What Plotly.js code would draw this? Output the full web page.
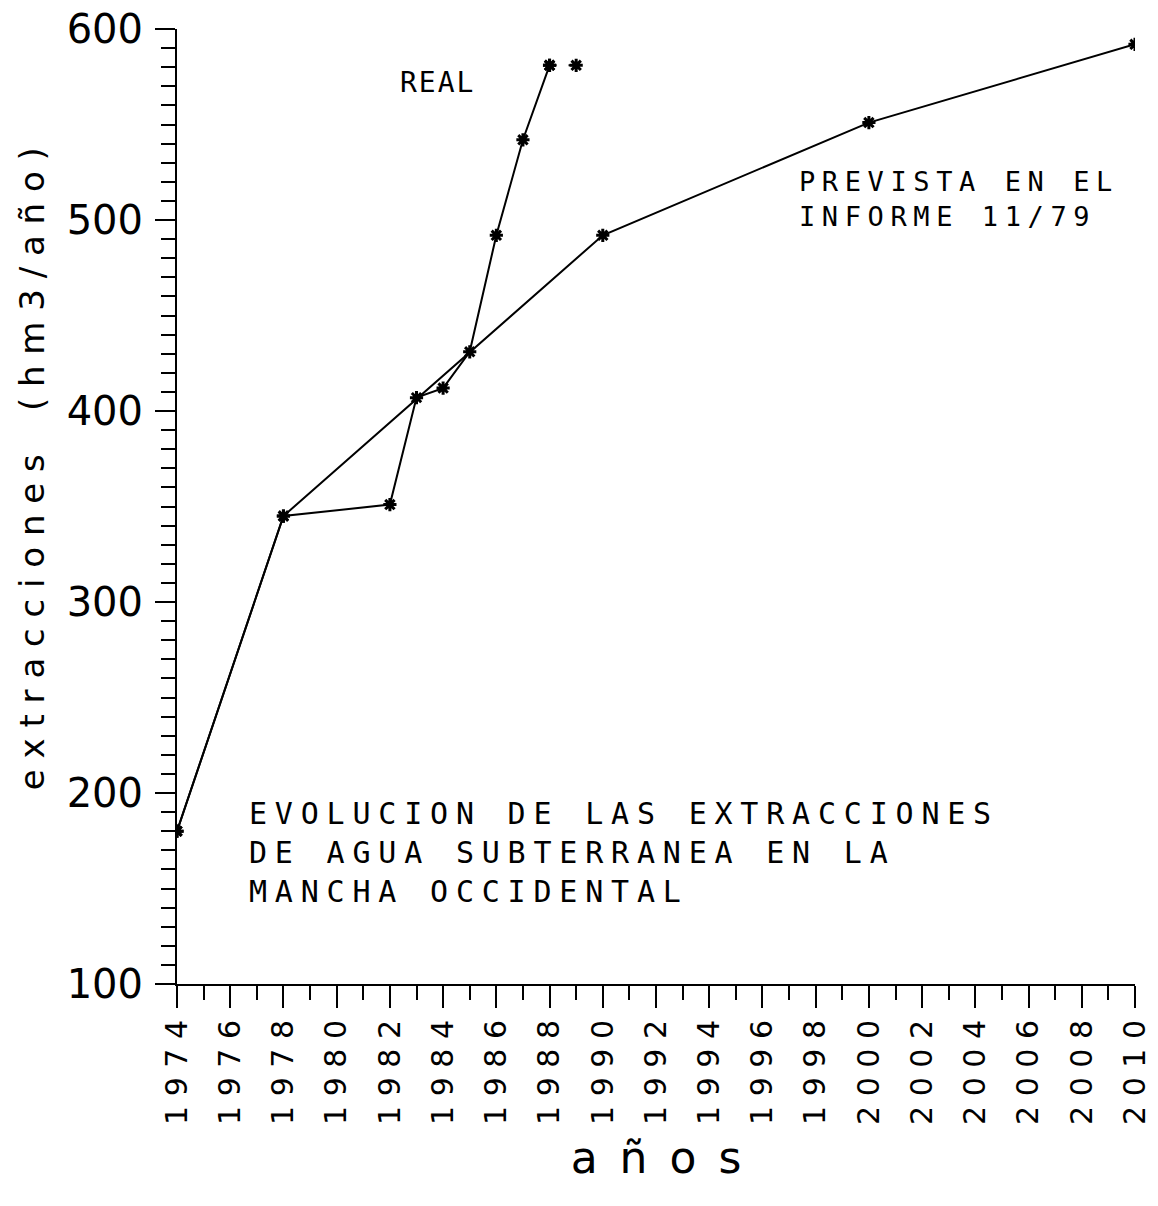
<!DOCTYPE html>
<html>
<head>
<meta charset="utf-8">
<script src="https://cdn.plot.ly/plotly-3.0.1.min.js"></script>
<style>
  html, body { margin: 0; padding: 0; background: #fff; }
  #chart { width: 1158px; height: 1206px; }
  g.annotation[data-index="0"] text { letter-spacing: 2px; }
  g.annotation[data-index="1"] text { letter-spacing: 6.6px; }
  g.annotation[data-index="2"] text { letter-spacing: 7.8px; }
</style>
</head>
<body>
<div id="chart"></div>
<script>
// ---- data ----
const realYears = [1974, 1978, 1982, 1983, 1984, 1985, 1986, 1987, 1988];
const realValues = [180, 345, 351, 407, 412, 431, 492, 542, 581];
const realTailYears = [1988, 1989];
const realTailValues = [581, 581];
const forecastYears = [1974, 1978, 1990, 2000, 2010];
const forecastValues = [180, 345, 492, 551, 592];
const xTickYears = [1974, 1976, 1978, 1980, 1982, 1984, 1986, 1988, 1990, 1992, 1994, 1996, 1998, 2000, 2002, 2004, 2006, 2008, 2010];
const yTickValues = [100, 200, 300, 400, 500, 600];
const labelReal = "REAL";
const labelForecast = ["PREVISTA EN EL", "INFORME 11/79"];
const labelTitle = ["EVOLUCION DE LAS EXTRACCIONES", "DE AGUA SUBTERRANEA EN LA", "MANCHA OCCIDENTAL"];
const yTitle = "extracciones (hm3/año)";
const xTitle = "años";

const NB = "\u00A0";
function spaced(s, sep) { return Array.from(s).map(c => c === " " ? NB + NB : c).join(sep); }

const markerStyle = { symbol: "asterisk-open", size: 11, color: "#000", line: { color: "#000", width: 3 } };
const lineStyle = { color: "#000", width: 2 };

const traces = [
  { x: forecastYears, y: forecastValues, mode: "lines+markers", line: lineStyle, marker: markerStyle, name: "prevista", showlegend: false, hoverinfo: "x+y" },
  { x: realYears, y: realValues, mode: "lines+markers", line: lineStyle, marker: markerStyle, name: "real", showlegend: false, hoverinfo: "x+y" },
  { x: realTailYears, y: realTailValues, mode: "lines+markers", line: { color: "#000", width: 2, dash: "7px,12px" }, marker: markerStyle, name: "real", showlegend: false, hoverinfo: "x+y" }
];

const monoFont = { family: "DejaVu Sans Mono, monospace", color: "#000" };

const annotations = [
  { x: 1983.8, y: 572, xref: "x", yref: "y", text: labelReal, showarrow: false, xanchor: "center", yanchor: "middle", borderpad: 0, font: Object.assign({ size: 28 }, monoFont) },
  { x: 1997.35, y: 511, xref: "x", yref: "y", text: labelForecast.join("<br>"), showarrow: false, xanchor: "left", yanchor: "middle", align: "left", borderpad: 0, font: Object.assign({ size: 27 }, monoFont) },
  { x: 1976.65, y: 169, xref: "x", yref: "y", text: labelTitle.join("<br>"), showarrow: false, xanchor: "left", yanchor: "middle", align: "left", borderpad: 0, font: Object.assign({ size: 30 }, monoFont) }
];

const layout = {
  width: 1158, height: 1206,
  margin: { l: 177, r: 23, t: 29, b: 222 },
  paper_bgcolor: "#fff", plot_bgcolor: "#fff",
  showlegend: false,
  font: { family: "DejaVu Sans, sans-serif", color: "#000" },
  xaxis: {
    range: [1974, 2010], showgrid: false, zeroline: false,
    showline: true, linecolor: "#000", linewidth: 2,
    tickmode: "array", tickvals: xTickYears, ticktext: xTickYears.map(y => spaced(String(y), NB)),
    ticks: "outside", ticklen: 22, tickwidth: 2, tickcolor: "#000",
    tickangle: -90, tickfont: { size: 30, family: "DejaVu Sans, sans-serif", color: "#000" },
    ticklabelstandoff: 0,
    minor: { dtick: 1, ticks: "outside", ticklen: 14, tickwidth: 2, tickcolor: "#000", showgrid: false },
    title: { text: spaced(xTitle, "\u2002"), font: { size: 44, family: "DejaVu Sans, sans-serif", color: "#000" }, standoff: 18 }
  },
  yaxis: {
    range: [100, 600], showgrid: false, zeroline: false,
    showline: true, linecolor: "#000", linewidth: 2,
    tickmode: "array", tickvals: yTickValues,
    ticks: "outside", ticklen: 20, tickwidth: 2, tickcolor: "#000",
    tickfont: { size: 40, family: "DejaVu Sans, sans-serif", color: "#000" },
    ticklabelstandoff: 4,
    minor: { dtick: 10, ticks: "outside", ticklen: 14, tickwidth: 2, tickcolor: "#000", showgrid: false },
    title: { text: "<span>" + NB.repeat(7) + "</span>" + spaced(yTitle, NB), font: { size: 34, family: "DejaVu Sans, sans-serif", color: "#000" }, standoff: 12 }
  },
  annotations: annotations
};

Plotly.newPlot("chart", traces, layout, { displayModeBar: false, staticPlot: true });
</script>
</body>
</html>
